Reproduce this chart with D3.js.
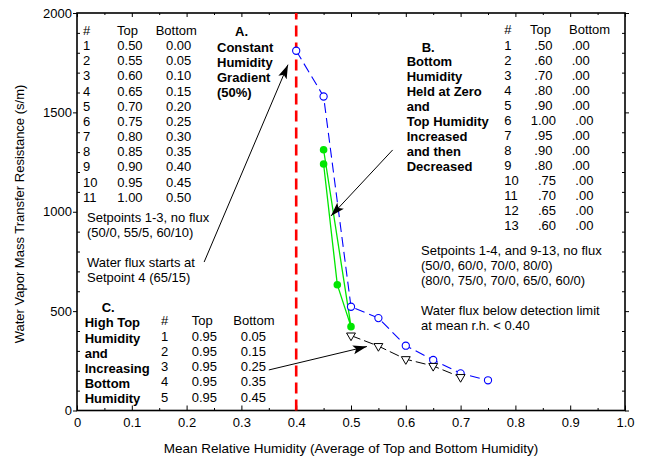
<!DOCTYPE html>
<html>
<head>
<meta charset="utf-8">
<script src="https://cdn.jsdelivr.net/npm/d3@7"></script>
<style>
  html, body { margin: 0; padding: 0; background: #fff; }
  svg text { font-family: "Liberation Sans", Arial, sans-serif; font-size: 13px; fill: #000; }
  .b { font-weight: bold; }
</style>
</head>
<body>
<svg id="chart" width="645" height="459"></svg>
<script>
// ---------------- data ----------------
// Series A: constant humidity gradient (blue open circles)
const seriesA_x = [0.40, 0.45, 0.50, 0.55, 0.60, 0.65, 0.70, 0.75];
const seriesA_y = [1810, 1580, 522, 465, 326, 254, 187, 152];
// Series B: bottom humidity zero, top increased then decreased (green dots)
const seriesB_x = [0.45, 0.50, 0.475, 0.45];
const seriesB_y = [1312, 422, 633, 1240];
// Series C: high top humidity, increasing bottom (black triangles)
const seriesC_x = [0.50, 0.55, 0.60, 0.65, 0.70];
const seriesC_y = [377, 324, 258, 224, 168];
// detection threshold
const thresholdX = 0.40;

const xTicks = [0, 0.1, 0.2, 0.3, 0.4, 0.5, 0.6, 0.7, 0.8, 0.9, 1.0];
const xTickLabels = ["0", "0.1", "0.2", "0.3", "0.4", "0.5", "0.6", "0.7", "0.8", "0.9", "1.0"];
const yTicks = [0, 500, 1000, 1500, 2000];
const yTickLabels = ["0", "500", "1000", "1500", "2000"];

const tableA_num = ["1","2","3","4","5","6","7","8","9","10","11"];
const tableA_top = ["0.50","0.55","0.60","0.65","0.70","0.75","0.80","0.85","0.90","0.95","1.00"];
const tableA_bot = ["0.00","0.05","0.10","0.15","0.20","0.25","0.30","0.35","0.40","0.45","0.50"];

const tableB_num = ["1","2","3","4","5","6","7","8","9","10","11","12","13"];
const tableB_top = [".50",".60",".70",".80",".90","1.00",".95",".90",".80",".75",".70",".65",".60"];
const tableB_bot = [".00",".00",".00",".00",".00",".00",".00",".00",".00",".00",".00",".00",".00"];

const tableC_num = ["1","2","3","4","5"];
const tableC_top = ["0.95","0.95","0.95","0.95","0.95"];
const tableC_bot = ["0.05","0.15","0.25","0.35","0.45"];

const labelA = ["Constant", "Humidity", "Gradient", "(50%)"];
const labelB = ["Bottom", "Humidity", "Held at Zero", "and", "Top Humidity", "Increased", "and then", "Decreased"];
const labelC = ["High Top", "Humidity", "and", "Increasing", "Bottom", "Humidity"];
const notesA1 = ["Setpoints 1-3, no flux", "(50/0, 55/5, 60/10)"];
const notesA2 = ["Water flux starts at", "Setpoint 4 (65/15)"];
const notesB1 = ["Setpoints 1-4, and 9-13, no flux", "(50/0, 60/0, 70/0, 80/0)", "(80/0, 75/0, 70/0, 65/0, 60/0)"];
const notesB2 = ["Water flux below detection limit", "at mean r.h. < 0.40"];

// arrows in data coordinates: [x1, y1, x2(tip), y2(tip)]
const arrowA = [0.232, 747, 0.385, 1740];
const arrowB = [0.576, 1311, 0.4635, 979];
const arrowC = [0.350, 204, 0.529, 322];

// ---------------- layout ----------------
const L = 77, R = 625, T = 13, B = 410.5;
const svg = d3.select("#chart");
const x = d3.scaleLinear().domain([0, 1]).range([L, R]);
const y = d3.scaleLinear().domain([0, 2000]).range([B, T]);

const defs = svg.append("defs");
defs.append("marker").attr("id", "ah")
  .attr("markerUnits", "userSpaceOnUse")
  .attr("viewBox", "0 -5 14 10").attr("refX", 14).attr("refY", 0)
  .attr("markerWidth", 14).attr("markerHeight", 10).attr("orient", "auto")
  .append("path").attr("d", "M0,-4.5L14,0L0,4.5L3,0Z").attr("fill", "#000");

// ---------------- axes ----------------
const minorX = d3.range(0, 1.0001, 0.05).filter(v => Math.abs(v * 10 - Math.round(v * 10)) > 1e-6);
const minorY = d3.range(0, 2001, 100).filter(v => v % 500 !== 0);

function noDomain(g) { g.select(".domain").remove(); }

// bottom
svg.append("g").attr("transform", `translate(0,${B})`)
  .call(d3.axisBottom(x).tickValues(xTicks).tickFormat((d, i) => xTickLabels[i]).tickSizeInner(-5).tickSizeOuter(0).tickPadding(7))
  .call(noDomain)
  .call(g => g.selectAll("text").style("font-size", "13px").style("font-family", "Liberation Sans, Arial, sans-serif"));
svg.append("g").attr("transform", `translate(0,${B})`)
  .call(d3.axisBottom(x).tickValues(minorX).tickFormat("").tickSizeInner(-2.5).tickSizeOuter(0))
  .call(noDomain);
// top
svg.append("g").attr("transform", `translate(0,${T})`)
  .call(d3.axisTop(x).tickValues(xTicks).tickFormat("").tickSizeInner(-4).tickSizeOuter(0))
  .call(noDomain);
svg.append("g").attr("transform", `translate(0,${T})`)
  .call(d3.axisTop(x).tickValues(minorX).tickFormat("").tickSizeInner(-2).tickSizeOuter(0))
  .call(noDomain);
// left
svg.append("g").attr("transform", `translate(${L},0)`)
  .call(d3.axisLeft(y).tickValues(yTicks).tickFormat((d, i) => yTickLabels[i]).tickSizeInner(4).tickSizeOuter(0).tickPadding(1))
  .call(noDomain)
  .call(g => g.selectAll("text").style("font-size", "13px").style("font-family", "Liberation Sans, Arial, sans-serif"));
svg.append("g").attr("transform", `translate(${L},0)`)
  .call(d3.axisLeft(y).tickValues(minorY).tickFormat("").tickSizeInner(-3).tickSizeOuter(0))
  .call(noDomain);
// right
svg.append("g").attr("transform", `translate(${R},0)`)
  .call(d3.axisRight(y).tickValues(yTicks).tickFormat("").tickSizeInner(4).tickSizeOuter(0))
  .call(noDomain);
svg.append("g").attr("transform", `translate(${R},0)`)
  .call(d3.axisRight(y).tickValues(minorY).tickFormat("").tickSizeInner(-3).tickSizeOuter(0))
  .call(noDomain);
svg.selectAll(".tick line").attr("stroke", "#000").attr("stroke-width", 1);

// frame
svg.append("rect").attr("x", L).attr("y", T).attr("width", R - L).attr("height", B - T)
  .attr("fill", "none").attr("stroke", "#000").attr("stroke-width", 1.6);

// axis titles
svg.append("text").attr("x", (L + R) / 2).attr("y", 453).attr("text-anchor", "middle")
  .style("font-size", "13.5px")
  .text("Mean Relative Humidity (Average of Top and Bottom Humidity)");
svg.append("text").attr("transform", "translate(24,214) rotate(-90)").attr("text-anchor", "middle")
  .text("Water Vapor Mass Transfer Resistance (s/m)");

// ---------------- threshold line ----------------
svg.append("line").attr("x1", x(thresholdX)).attr("x2", x(thresholdX)).attr("y1", y(0)).attr("y2", y(2000))
  .attr("stroke", "#ff0000").attr("stroke-width", 2.6).attr("stroke-dasharray", "11,6");

// ---------------- series ----------------
const line = d3.line().x(d => x(d[0])).y(d => y(d[1]));
const A = seriesA_x.map((v, i) => [v, seriesA_y[i]]);
const Bp = seriesB_x.map((v, i) => [v, seriesB_y[i]]);
const C = seriesC_x.map((v, i) => [v, seriesC_y[i]]);

svg.append("path").attr("d", line(Bp)).attr("fill", "none").attr("stroke", "#00e600").attr("stroke-width", 1.3);
svg.append("path").attr("d", line(A)).attr("fill", "none").attr("stroke", "#0000ff").attr("stroke-width", 1.1).attr("stroke-dasharray", "10,5");
svg.append("path").attr("d", line(C)).attr("fill", "none").attr("stroke", "#000").attr("stroke-width", 1).attr("stroke-dasharray", "10,4");

svg.selectAll(".ptA").data(A).enter().append("circle")
  .attr("cx", d => x(d[0])).attr("cy", d => y(d[1])).attr("r", 3.6)
  .attr("fill", "#fff").attr("stroke", "#0000ff").attr("stroke-width", 1.1);
svg.selectAll(".ptB").data(Bp).enter().append("circle")
  .attr("cx", d => x(d[0])).attr("cy", d => y(d[1])).attr("r", 3.8)
  .attr("fill", "#00e600");
const tri = d3.symbol().type(d3.symbolTriangle).size(34);
svg.selectAll(".ptC").data(C).enter().append("path")
  .attr("d", tri).attr("transform", d => `translate(${x(d[0])},${y(d[1])}) rotate(180)`)
  .attr("fill", "#fff").attr("stroke", "#000").attr("stroke-width", 1);

// ---------------- arrows ----------------
[arrowA, arrowB, arrowC].forEach(a => {
  svg.append("line").attr("x1", x(a[0])).attr("y1", y(a[1])).attr("x2", x(a[2])).attr("y2", y(a[3]))
    .attr("stroke", "#000").attr("stroke-width", 1).attr("marker-end", "url(#ah)");
});

// ---------------- text blocks ----------------
function lines(arr, x0, y0, step, cls) {
  arr.forEach((t, i) => {
    const el = svg.append("text").attr("x", x0).attr("y", y0 + i * step).text(t);
    if (cls) el.attr("class", cls);
  });
}

// Table A
svg.append("text").attr("x", 83).attr("y", 35).text("#");
svg.append("text").attr("x", 117).attr("y", 35).text("Top");
svg.append("text").attr("x", 155.7).attr("y", 35).text("Bottom");
tableA_num.forEach((n, i) => {
  const yy = 50 + i * 15.17;
  svg.append("text").attr("x", 83).attr("y", yy).text(n);
  svg.append("text").attr("x", 117.3).attr("y", yy).text(tableA_top[i]);
  svg.append("text").attr("x", 166).attr("y", yy).text(tableA_bot[i]);
});
lines(notesA1, 87, 221.7, 15);
lines(notesA2, 87, 266.7, 15.6);

// Label A
svg.append("text").attr("class", "b").attr("x", 235).attr("y", 35.7).text("A.");
lines(labelA, 217, 51.7, 15.2, "b");

// Label B
svg.append("text").attr("class", "b").attr("x", 421.7).attr("y", 51.5).text("B.");
lines(labelB, 406.7, 65.9, 15, "b");

// Table B
const sp = 3.6;
svg.append("text").attr("x", 504.3).attr("y", 34.3).text("#");
svg.append("text").attr("x", 530).attr("y", 34.3).text("Top");
svg.append("text").attr("x", 569).attr("y", 34.3).text("Bottom");
tableB_num.forEach((n, i) => {
  const yy = 50 + i * 15;
  const dn = (n.length - 1) * sp, dt = (tableB_top[i].length - 3) * sp;
  svg.append("text").attr("x", 504.3).attr("y", yy).text(n);
  svg.append("text").attr("x", 534.3 + dn - dt).attr("y", yy).text(tableB_top[i]);
  svg.append("text").attr("x", 571.7 + dn + dt).attr("y", yy).text(tableB_bot[i]);
});
lines(notesB1, 421, 254.5, 15);
lines(notesB2, 421, 314.5, 15);

// Label C
svg.append("text").attr("class", "b").attr("x", 101.7).attr("y", 312.3).text("C.");
lines(labelC, 84.7, 327.3, 15.2, "b");

// Table C
svg.append("text").attr("x", 161).attr("y", 325.2).text("#");
svg.append("text").attr("x", 191.7).attr("y", 325.2).text("Top");
svg.append("text").attr("x", 233.3).attr("y", 325.2).text("Bottom");
tableC_num.forEach((n, i) => {
  const yy = 340.7 + i * 15.25;
  svg.append("text").attr("x", 161).attr("y", yy).text(n);
  svg.append("text").attr("x", 191.7).attr("y", yy).text(tableC_top[i]);
  svg.append("text").attr("x", 240.7).attr("y", yy).text(tableC_bot[i]);
});
</script>
</body>
</html>
